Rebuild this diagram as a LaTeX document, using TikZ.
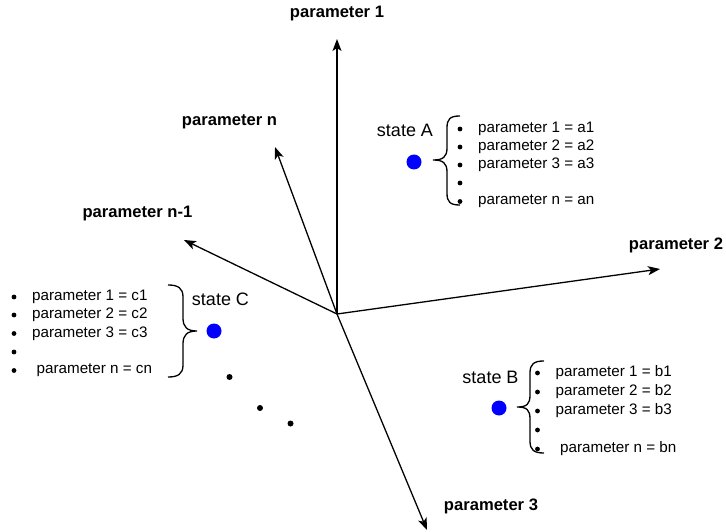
\documentclass[tikz,border=0pt]{standalone}
\usepackage{fontspec}
\setmainfont{Liberation Sans}
\usetikzlibrary{arrows.meta}
\begin{document}
\begin{tikzpicture}[x=1pt,y=-1pt,
  axis/.style={line width=1.3pt,-{Stealth[length=12pt,width=9pt,inset=3pt]}},
  axlabel/.style={font=\fontsize{16.6}{19}\selectfont\bfseries,inner sep=0pt},
  item/.style={font=\fontsize{15.2}{18}\selectfont,anchor=west,inner sep=0pt},
  statelabel/.style={font=\fontsize{18}{21}\selectfont,inner sep=0pt},
  bul/.style={circle,fill=black,inner sep=0pt,minimum size=4.8pt},
  sdot/.style={circle,fill=blue,inner sep=0pt,minimum size=15pt},
  pdot/.style={circle,fill=black,inner sep=0pt,minimum size=6pt},
  bracepath/.style={line width=1.3pt}]
\useasboundingbox (0,0) rectangle (726,532);

% axes
\coordinate (O) at (337,314);
\coordinate (t1) at (337,39);
\coordinate (t2) at (660,269);
\coordinate (t3) at (427,530);
\coordinate (tn) at (275,147);
\coordinate (tm) at (184,240);
\draw[axis] (O) -- (t1);
\draw[axis] (O) -- (t2);
\draw[axis] (O) -- (t3);
\draw[axis] (O) -- (tn);
\draw[axis] (O) -- (tm);

\node[axlabel] (l1) at (337,14) {parameter 1};
\node[axlabel] (l2) at (676,245) {parameter 2};
\node[axlabel] (l3) at (491,506) {parameter 3};
\node[axlabel] (ln) at (229.5,121.5) {parameter n};
\node[axlabel] (lm) at (137.5,214) {parameter n-1};

% state A
\node[statelabel] (sA) at (405,130.5) {state A};
\node[sdot] (dA) at (414,162) {};
\draw[bracepath] (460,116) .. controls (450,116) and (447,119) .. (447,128) -- (447,148)
  .. controls (447,157) and (443,160) .. (433,160)
  .. controls (443,160) and (447,163) .. (447,172) -- (447,193)
  .. controls (447,202) and (450,205) .. (460,205);
\foreach \i/\y/\t in {1/129/parameter 1 = a1, 2/147/parameter 2 = a2, 3/165/parameter 3 = a3} {
  \node[bul] (bA\i) at (460,\y) {};
  \node[item] (iA\i) at (478,\y) {\t};
}
\node[bul] (bA4) at (460,183) {};
\node[bul] (bA5) at (460,201.5) {};
\node[item] (iA5) at (478,201.5) {parameter n = an};

% state C
\node[statelabel] (sC) at (220.5,299.5) {state C};
\node[sdot] (dC) at (214,331) {};
\draw[bracepath] (168,285) .. controls (178,285) and (183,288) .. (183,297) -- (183,318)
  .. controls (183,327) and (187,331) .. (197,331)
  .. controls (187,331) and (183,335) .. (183,344) -- (183,365)
  .. controls (183,374) and (178,377) .. (168,377);
\foreach \i/\y/\t in {1/297/parameter 1 = c1, 2/315/parameter 2 = c2, 3/333.5/parameter 3 = c3} {
  \node[bul] (bC\i) at (14,\y) {};
  \node[item] (iC\i) at (32,\y) {\t};
}
\node[bul] (bC4) at (14,352) {};
\node[bul] (bC5) at (14,370.5) {};
\node[item] (iC5) at (36.5,370.5) {parameter n = cn};

% continuation dots
\node[pdot] (p1) at (229.5,377) {};
\node[pdot] (p2) at (260,408) {};
\node[pdot] (p3) at (290.5,423.5) {};

% state B
\node[statelabel] (sB) at (490.5,377.5) {state B};
\node[sdot] (dB) at (499,408) {};
\draw[bracepath] (544,361) .. controls (534,361) and (530,364) .. (530,373) -- (530,395)
  .. controls (530,404) and (527,407) .. (517,407)
  .. controls (527,407) and (530,410) .. (530,419) -- (530,441)
  .. controls (530,450) and (534,453) .. (544,453);
\foreach \i/\y/\t in {1/373/parameter 1 = b1, 2/392/parameter 2 = b2, 3/411/parameter 3 = b3} {
  \node[bul] (bB\i) at (537.5,\y) {};
  \node[item] (iB\i) at (555.5,\y) {\t};
}
\node[bul] (bB4) at (537.5,430) {};
\node[bul] (bB5) at (537.5,449) {};
\node[item] (iB5) at (560,449) {parameter n = bn};
\end{tikzpicture}
\end{document}
